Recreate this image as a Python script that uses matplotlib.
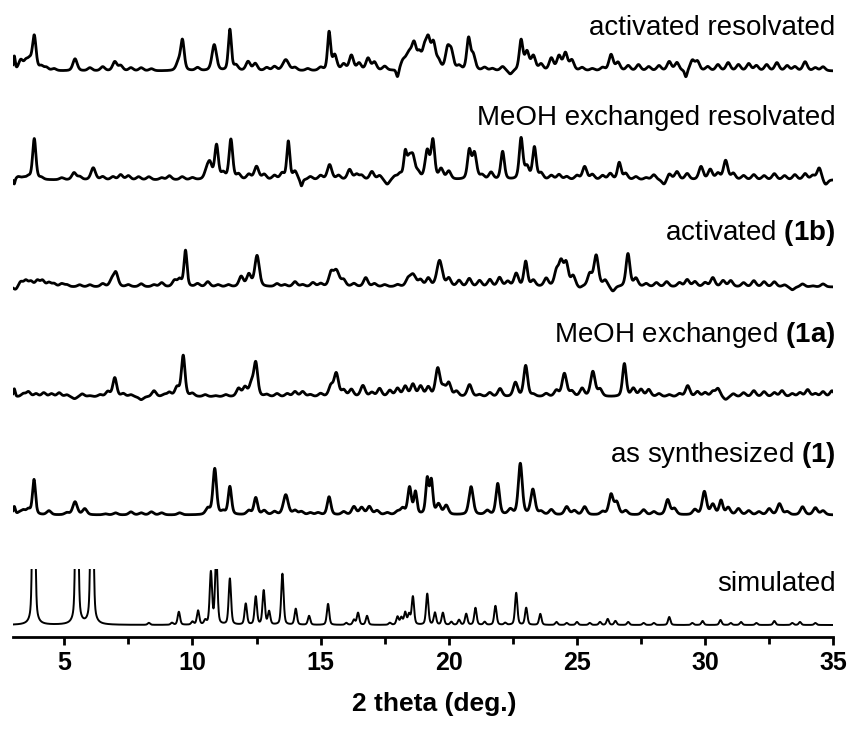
import numpy as np
import matplotlib
matplotlib.use("Agg")
import matplotlib.pyplot as plt
from matplotlib.patches import Rectangle

plt.rcParams['font.family'] = ['Liberation Sans', 'DejaVu Sans']
plt.rcParams['mathtext.fontset'] = 'custom'
plt.rcParams['mathtext.rm'] = 'Liberation Sans'
plt.rcParams['mathtext.bf'] = 'Liberation Sans:bold'

# peaks: (2theta, intensity, fwhm)  (fwhm None -> default)
act_resolv = [(3.05, 14, 0.06), (3.3, 10, None), (3.5, 8, None), (3.65, 9, None),
              (3.83, 34, 0.12), (4.1, 4, None), (4.3, 3, None), (4.6, 2, None),
              (5.42, 12, None), (6.0, 3, None), (6.5, 4, None), (6.97, 9, None),
              (7.2, 5, None), (7.6, 3, None), (8.0, 3, None), (8.4, 2, None),
              (9.45, 8, None), (9.61, 30, 0.12), (10.2, 3, None), (10.85, 26, 0.15),
              (11.46, 41, 0.1), (11.7, 5, None), (12.17, 9, None), (12.45, 7, None),
              (12.9, 3, None), (13.2, 4, None), (13.64, 11, 0.2), (14.0, 3, None),
              (14.5, 2, None), (15.0, 3, None), (15.33, 38, 0.1), (15.55, 15, None),
              (15.9, 6, None), (16.2, 15, None), (16.5, 7, None), (16.85, 12, None),
              (17.1, 8, None), (17.5, 4, None), (18.0, -8, 0.08), (18.2, 6, None),
              (18.45, 17, 0.25), (18.65, 20, None), (18.85, 14, None), (19.05, 18, None),
              (19.2, 27, None), (19.4, 25, None), (19.6, 8, None), (19.95, 20, None),
              (20.1, 17, None), (20.4, 4, None), (20.77, 31, 0.12), (20.95, 15, None),
              (21.4, 3, None), (21.7, 2, None), (22.1, 4, None), (22.4, -4, None),
              (22.82, 30, 0.12), (23.05, 18, None), (23.3, 14, None), (23.6, 6, None),
              (24.0, 12, None), (24.3, 14, None), (24.55, 17, None), (24.8, 10, None),
              (25.2, 3, None), (25.6, 2, None), (26.0, 3, None), (26.33, 16, None),
              (26.6, 8, None), (27.0, 5, None), (27.4, 6, None), (27.8, 4, None),
              (28.2, 5, None), (28.6, 9, None), (28.9, 8, None), (29.25, -7, 0.08),
              (29.5, 10, None), (29.7, 9, None), (30.1, 4, None), (30.5, 6, None),
              (30.9, 8, None), (31.3, 6, None), (31.7, 7, None), (32.0, 5, None),
              (32.4, 6, None), (32.8, 8, None), (33.2, 5, None), (33.5, 4, None),
              (33.9, 9, None), (34.3, 3, None), (34.6, 4, None)]

meoh_resolv = [(3.05, -5, 0.05), (3.2, 3, None), (3.4, 2, None), (3.6, 3, None),
               (3.83, 41, 0.11), (4.1, 2, None), (4.9, 2, None), (5.38, 7, None),
               (5.6, 3, None), (6.13, 12, 0.15), (6.5, 3, None), (6.9, 3, None),
               (7.2, 5, None), (7.5, 4, None), (7.9, 3, None), (8.3, 3, None),
               (8.8, 2, None), (9.1, 4, None), (9.6, 3, None), (10.0, 2, None),
               (10.55, 8, None), (10.68, 15, None), (10.94, 34, 0.12), (11.2, 6, None),
               (11.5, 40, 0.12), (11.8, 5, None), (12.2, 5, None), (12.5, 13, 0.15),
               (12.8, 5, None), (13.2, 4, None), (13.5, 6, None), (13.74, 38, 0.1),
               (14.0, 8, None), (14.25, -7, 0.08), (14.6, 3, None), (15.0, 4, None),
               (15.35, 15, 0.15), (15.7, 4, None), (16.13, 10, None), (16.4, 5, None),
               (16.6, 4, None), (17.0, 8, None), (17.3, 4, None), (17.6, -5, None),
               (17.9, 3, None), (18.1, 5, None), (18.3, 24, 0.1), (18.45, 18, None),
               (18.6, 20, None), (18.8, 6, None), (19.16, 28, None), (19.38, 38, 0.12),
               (19.7, 10, None), (20.0, 8, None), (20.8, 28, 0.12), (21.0, 26, None),
               (21.3, 4, None), (21.65, 7, None), (22.1, 28, 0.12), (22.82, 41, 0.12),
               (23.05, 12, None), (23.34, 32, 0.12), (23.6, 6, None), (24.0, 4, None),
               (24.3, 5, None), (24.6, 3, None), (25.0, 4, None), (25.3, 13, None),
               (25.6, 5, None), (26.0, 4, None), (26.3, 6, None), (26.65, 17, 0.12),
               (26.9, 6, None), (27.3, 3, None), (27.7, 2, None), (28.0, 5, None),
               (28.4, -5, None), (28.6, 6, None), (28.9, 8, None), (29.3, 6, None),
               (29.84, 13, None), (30.2, 10, None), (30.5, 6, None), (30.8, 19, None),
               (31.1, 6, None), (31.5, 4, None), (31.9, 5, None), (32.3, 4, None),
               (32.7, 6, None), (33.1, 4, None), (33.5, 5, None), (33.9, 6, None),
               (34.2, 4, None), (34.45, 12, None), (34.7, -5, None)]

act_1b = [(3.1, -3, None), (3.3, 5, None), (3.5, 6, None), (3.7, 5, None),
          (3.95, 6, None), (4.15, 6, None), (4.4, 4, None), (4.6, 3, None),
          (4.9, 3, None), (5.1, 2, None), (5.6, 2, None), (6.0, 2, None),
          (6.5, 3, None), (6.85, 6, None), (7.01, 14, 0.15), (7.5, 2, None),
          (8.0, 3, None), (8.5, 2, None), (8.8, 4, None), (9.3, 6, None),
          (9.5, 7, None), (9.73, 36, 0.1), (10.2, 3, None), (10.6, 5, None),
          (11.0, 2, None), (11.4, 2, None), (11.9, 10, None), (12.2, 12, None),
          (12.52, 31, 0.15), (13.3, 3, None), (13.6, 2, None), (14.0, 5, None),
          (14.3, 2, None), (14.7, 4, None), (15.0, 3, None), (15.4, 12, None),
          (15.61, 16, 0.2), (15.9, 6, None), (16.3, 3, None), (16.76, 9, None),
          (17.1, 3, None), (17.5, 2, None), (18.0, 2, None), (18.4, 6, None),
          (18.6, 12, 0.2), (18.9, 6, None), (19.2, 8, None), (19.64, 26, 0.18),
          (20.0, 8, None), (20.4, 6, None), (20.8, 8, None), (21.2, 6, None),
          (21.6, 7, None), (21.98, 9, None), (22.3, 5, None), (22.63, 13, None),
          (23.0, 25, 0.12), (23.3, 6, None), (23.8, 8, None), (24.2, 14, None),
          (24.38, 23, 0.15), (24.58, 22, None), (24.85, 10, None), (25.1, -2, None),
          (25.5, 12, None), (25.75, 31, 0.15), (26.1, 6, None), (26.4, -5, None),
          (26.99, 33, 0.13), (27.3, 8, None), (27.7, 3, None), (28.1, 4, None),
          (28.5, 5, None), (29.0, 4, None), (29.3, 7, None), (29.6, 5, None),
          (30.0, 4, None), (30.3, 9, None), (30.7, 6, None), (31.0, 6, None),
          (31.5, 4, None), (31.9, 6, None), (32.3, 5, None), (32.7, 5, None),
          (33.1, 2, None), (33.4, -3, None), (33.8, 3, None), (34.2, 1, None),
          (34.6, 3, None)]

meoh_1a = [(3.05, 8, 0.06), (3.4, 3, None), (3.6, 5, None), (3.9, 3, None),
           (4.2, 4, None), (4.5, 3, None), (4.8, 4, None), (5.1, 2, None),
           (5.4, -2, None), (5.7, 3, None), (6.0, 1, None), (6.4, 2, None),
           (6.7, 5, None), (6.97, 19, 0.13), (7.3, 3, None), (7.6, 2, None),
           (8.0, -3, None), (8.5, 6, None), (8.9, 2, None), (9.1, 4, None),
           (9.4, 9, None), (9.64, 41, 0.12), (10.0, 3, None), (10.5, 2, None),
           (10.9, 1, None), (11.3, 2, None), (11.8, 8, None), (12.05, 9, None),
           (12.3, 12, None), (12.47, 33, 0.13), (12.9, 2, None), (13.3, 3, None),
           (13.7, 3, None), (14.0, 5, None), (14.3, 5, None), (14.6, 2, None),
           (15.0, 3, None), (15.4, 10, None), (15.61, 23, 0.15), (15.9, 6, None),
           (16.2, 7, None), (16.65, 11, 0.15), (17.0, 4, None), (17.3, 8, None),
           (17.7, 6, None), (18.0, 8, None), (18.3, 10, None), (18.6, 12, None),
           (18.9, 10, None), (19.2, 9, None), (19.57, 28, 0.15), (19.8, 8, None),
           (20.0, 13, None), (20.3, 5, None), (20.81, 12, 0.15), (21.2, 2, None),
           (21.6, 4, None), (22.0, 8, None), (22.6, 14, None), (23.0, 31, 0.13),
           (23.3, 2, None), (23.8, 3, None), (24.2, 6, None), (24.51, 23, 0.15),
           (24.8, 5, None), (25.2, 8, None), (25.62, 25, 0.15), (25.9, 7, None),
           (26.85, 33, 0.12), (27.2, 8, None), (27.5, 7, None), (27.8, 7, None),
           (28.2, 3, None), (28.6, 2, None), (29.0, 3, None), (29.32, 11, None),
           (29.7, 5, None), (30.0, 4, None), (30.3, 5, None), (30.5, 8, None),
           (30.8, -3, None), (31.1, 3, None), (31.5, 4, None), (31.9, 6, None),
           (32.3, 5, None), (32.7, 4, None), (33.0, 6, None), (33.4, 3, None),
           (33.7, 4, None), (34.0, 7, None), (34.3, 3, None), (34.6, 5, None),
           (34.95, 6, None)]

as_synth = [(3.05, 8, 0.07), (3.25, 2, None), (3.4, 4, None), (3.6, 5, None),
            (3.82, 35, 0.1), (4.4, 4, None), (5.1, 2, None), (5.42, 13, 0.15),
            (5.8, 6, None), (6.6, 1, None), (7.0, 2, None), (7.6, 3, None),
            (8.0, 2, None), (8.4, 3, None), (8.8, 2, None), (9.5, 2, None),
            (10.6, 6, None), (10.87, 46, 0.12), (11.2, 3, None), (11.46, 28, 0.11),
            (12.2, 4, None), (12.47, 17, 0.12), (12.8, 4, None), (13.2, 3, None),
            (13.64, 20, 0.16), (14.0, 4, None), (14.25, 3, None), (14.6, 2, None),
            (14.9, 2, None), (15.33, 18, 0.12), (15.9, 3, None), (16.3, 8, None),
            (16.6, 7, None), (16.9, 8, None), (17.2, 4, None), (17.6, 2, None),
            (18.0, 3, None), (18.2, 6, None), (18.47, 27, 0.12), (18.7, 22, 0.1),
            (19.16, 35, 0.1), (19.32, 33, 0.1), (19.6, 10, None), (19.9, 9, None),
            (20.87, 28, 0.14), (21.5, 4, None), (21.91, 31, 0.12), (22.4, 5, None),
            (22.79, 51, 0.13), (23.28, 25, 0.14), (23.6, 3, None), (24.0, 5, None),
            (24.6, 8, None), (24.9, 4, None), (25.3, 8, None), (26.0, 3, None),
            (26.33, 20, 0.14), (26.55, 12, None), (26.9, 4, None), (27.6, 5, None),
            (28.0, 3, None), (28.54, 15, 0.14), (28.8, 6, None), (29.6, 5, None),
            (29.97, 23, 0.14), (30.3, 10, None), (30.62, 14, 0.12), (30.9, 7, None),
            (31.3, 6, None), (31.7, 4, None), (32.1, 3, None), (32.5, 6, None),
            (32.9, 11, None), (33.2, 3, None), (33.8, 8, None), (34.3, 7, None),
            (34.6, 4, None)]

simulated = [(3.81, 300, 0.09), (5.49, 300, 0.09), (6.08, 300, 0.09), (8.3, 2, None),
             (9.2, 2, None), (9.47, 13, None), (10.0, 3, None), (10.22, 14, None),
             (10.5, 4, None), (10.72, 52, None), (10.93, 70, None), (11.46, 46, None),
             (12.08, 21, None), (12.47, 28, None), (12.78, 34, None), (12.99, 13, None),
             (13.51, 51, None), (14.03, 16, None), (14.55, 9, None), (15.29, 21, None),
             (16.0, 2, None), (16.3, 5, None), (16.46, 12, None), (16.81, 9, None),
             (17.7, 2, None), (18.0, 8, None), (18.15, 7, None), (18.3, 12, None),
             (18.45, 10, None), (18.6, 28, None), (19.16, 31, None), (19.46, 12, None),
             (19.77, 12, None), (20.1, 3, None), (20.4, 5, None), (20.68, 11, None),
             (21.04, 17, None), (21.4, 3, None), (21.82, 19, None), (22.2, 2, None),
             (22.63, 32, None), (23.02, 17, None), (23.57, 11, None), (24.2, 3, None),
             (24.6, 2, None), (25.0, 3, None), (25.5, 2, None), (25.9, 3, None),
             (26.2, 6, None), (26.5, 4, None), (27.0, 3, None), (27.6, 2, None),
             (28.0, 2, None), (28.6, 8, None), (29.5, 2, None), (29.9, 4, None),
             (30.6, 5, None), (31.0, 2, None), (31.4, 3, None), (32.0, 2, None),
             (32.7, 4, None), (33.4, 2, None), (33.7, 3, None), (34.3, 2, None)]

# label, peaks, vertical offset, label baseline height, default fwhm, broadening, line width
patterns = [
    ("activated resolvated", act_resolv, 566, 602, 0.2, 1.4, 2.0),
    ("MeOH exchanged resolvated", meoh_resolv, 457, 512, 0.2, 1.4, 2.0),
    (r"activated $\mathbf{(1b)}$", act_1b, 350, 397, 0.2, 1.4, 2.0),
    (r"MeOH exchanged $\mathbf{(1a)}$", meoh_1a, 240, 295, 0.2, 1.4, 2.0),
    (r"as synthesized $\mathbf{(1)}$", as_synth, 122, 175, 0.2, 1.4, 2.0),
    ("simulated", simulated, 12, 46, 0.11, 1.1, 1.4),
]
sim_clip = 56


def pattern_curve(x, peaks, w0, k):
    y = np.zeros_like(x)
    for c, h, w in peaks:
        w = w0 if w is None else w * k
        d = 4 * (x - c) ** 2 / w ** 2
        y += h * (0.6 * np.exp(-np.log(2) * d) + 0.4 / (1 + d))
    return y


x = np.arange(3.0, 35.0001, 0.005)

fig = plt.figure(figsize=(8.52, 7.33), dpi=100)
ax = fig.add_axes([13 / 852, 96 / 733, 820.3 / 852, 637 / 733])

for label, peaks, off, ty, w0, k, lw in patterns:
    y = pattern_curve(x, peaks, w0, k) + off
    line, = ax.plot(x, y, color='black', lw=lw, solid_joinstyle='round')
    if label == "simulated":
        line.set_clip_path(Rectangle((3, 0), 32, off + sim_clip, transform=ax.transData))
    ax.text(35.08, ty, label, ha='right', va='baseline', fontsize=20, clip_on=False)

ax.set_xlim(3, 35)
ax.set_ylim(0, 637)
for s in ['left', 'right', 'top']:
    ax.spines[s].set_visible(False)
ax.spines['bottom'].set_linewidth(2)
ax.set_yticks([])
ax.set_xticks([5, 10, 15, 20, 25, 30, 35])
ax.set_xticks([7.5, 12.5, 17.5, 22.5, 27.5, 32.5], minor=True)
ax.tick_params(axis='x', which='major', length=6, width=2, direction='out', pad=4, labelsize=18)
ax.tick_params(axis='x', which='minor', length=5, width=2, direction='out')
for t in ax.get_xticklabels():
    t.set_fontweight('bold')
ax.set_xlabel("2 theta (deg.)", fontsize=19, fontweight='bold', labelpad=12)
ax.xaxis.label.set_x(0.513)

fig.savefig("out.png", dpi=100)
